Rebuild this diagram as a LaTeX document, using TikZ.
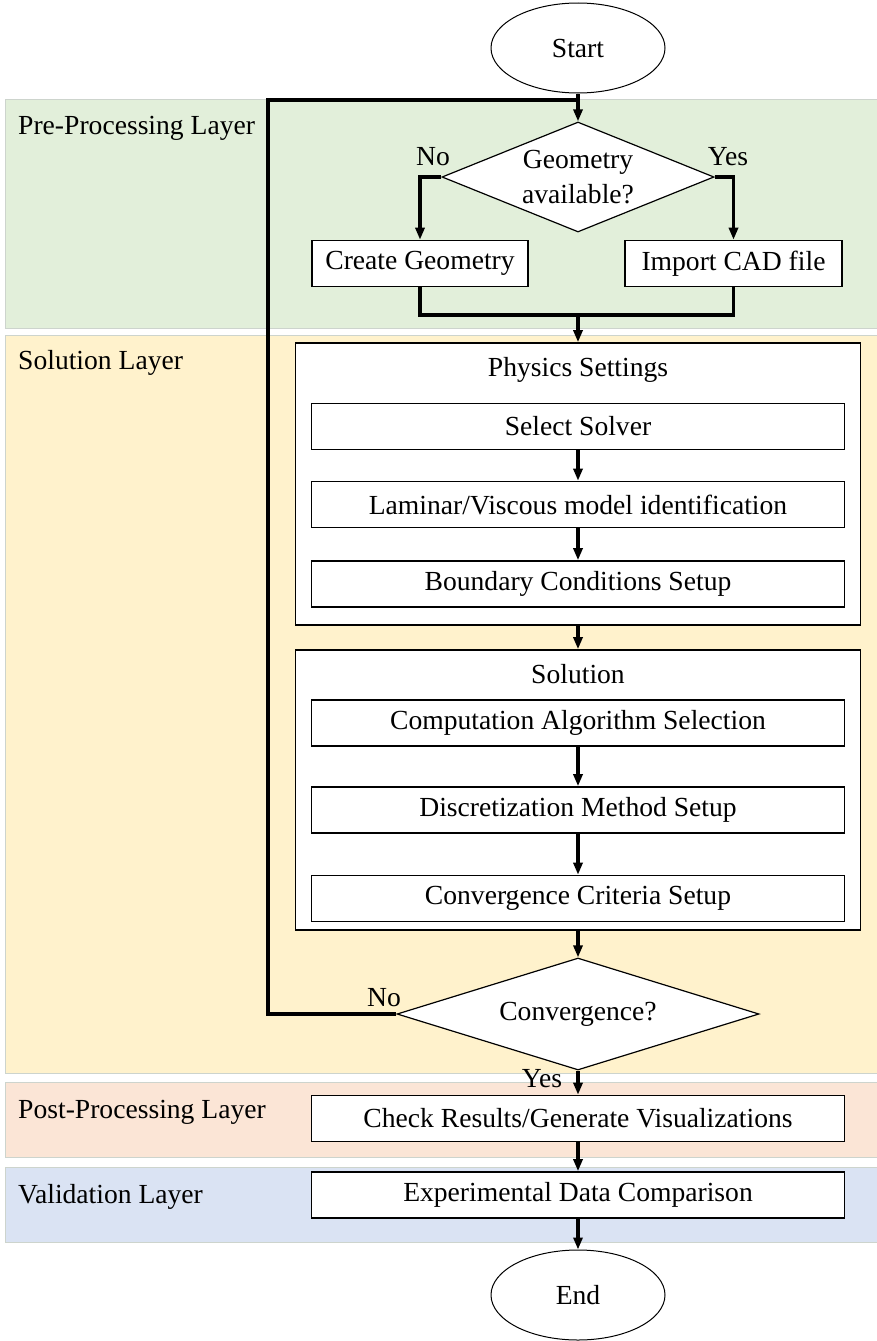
\documentclass[tikz,border=0pt]{standalone}
\usepackage{fontspec}
\setmainfont{Liberation Serif}
\usepackage{tikz}
\usetikzlibrary{arrows,arrows.meta,positioning,shapes.geometric}
\definecolor{preband}{RGB}{226,239,218}
\definecolor{solband}{RGB}{255,242,204}
\definecolor{postband}{RGB}{251,229,214}
\definecolor{valband}{RGB}{218,227,243}
\definecolor{bandline}{RGB}{205,212,205}
\tikzset{font=\fontsize{27.6}{35}\selectfont}
\tikzset{every node/.append style={transform shape=false}}
\tikzset{
  band/.style={draw=bandline, line width=1pt},
  layer/.style={anchor=base west, inner sep=0pt},
  term/.style={ellipse, draw, fill=white, line width=1pt, minimum width=174, minimum height=90, inner sep=0pt},
  decide/.style={diamond, draw, fill=white, line width=1.2pt, inner sep=0pt, align=center},
  procbox/.style={draw, fill=white, line width=1.6pt, minimum height=46, inner sep=0pt},
  groupbox/.style={draw, fill=white, line width=1.6pt, minimum width=565, inner sep=0pt},
  lbl/.style={inner sep=0pt},
  flow/.style={line width=3.2pt},
  arr/.style={flow, -{Triangle[length=12pt,width=9pt]}}
}

\begin{document}
\begin{tikzpicture}[x=1pt, y=-1pt]
\useasboundingbox (0,0) rectangle (877,1341);
% layers
\filldraw[band, fill=preband] (5,99) rectangle (880,328);
\filldraw[band, fill=solband] (5,335) rectangle (880,1073);
\filldraw[band, fill=postband] (5,1082) rectangle (880,1157);
\filldraw[band, fill=valband] (5,1167) rectangle (880,1242);
\node[layer] (prelayer) at (18,134) {Pre-Processing Layer};
\node[layer] (sollayer) at (18,369) {Solution Layer};
\node[layer] (postlayer) at (18,1118) {Post-Processing Layer};
\node[layer] (vallayer) at (18,1203) {Validation Layer};

\node[term] (start) at (578,48) {Start};
\node[decide, minimum width=272, minimum height=110, aspect=2.47] (geo) at (578,177) {Geometry\\available?};
\node[lbl] (geono) at (433,157) {No};
\node[lbl] (geoyes) at (728,157) {Yes};
\node[procbox, minimum width=216] (create) at (420,263.5) {Create Geometry};
\node[procbox, minimum width=217] (cad) at (733.5,263.5) {Import CAD file};
\coordinate (merge) at (578,315);
\coordinate (join) at (578,100);
\coordinate (loopc) at (268,100);

\node[groupbox, minimum height=282] (phys) at (578,484) {};
\node[below=15pt of phys.north, inner sep=0pt] (physt) {Physics Settings};
\node[procbox, minimum width=533] (solver) at (578,426.5) {Select Solver};
\node[procbox, minimum width=533] (visc) at (578,504.5) {Laminar/Viscous model identification};
\node[procbox, minimum width=533] (bc) at (578,584) {Boundary Conditions Setup};

\node[groupbox, minimum height=280] (sol) at (578,790) {};
\node[below=15pt of sol.north, inner sep=0pt] (solt) {Solution};
\node[procbox, minimum width=533] (algo) at (578,723) {Computation Algorithm Selection};
\node[procbox, minimum width=533] (disc) at (578,810) {Discretization Method Setup};
\node[procbox, minimum width=533] (crit) at (578,898.5) {Convergence Criteria Setup};

\node[decide, minimum width=362, minimum height=112, aspect=3.2] (conv) at (578,1014) {Convergence?};
\node[lbl] (convno) at (384,998) {No};
\node[lbl] (convyes) at (542,1079) {Yes};

\node[procbox, minimum width=533] (check) at (578,1118.5) {Check Results/Generate Visualizations};
\node[procbox, minimum width=533] (exp) at (578,1195) {Experimental Data Comparison};
\node[term] (end) at (578,1295) {End};

\draw[arr] (start) -- (geo);
\draw[arr] (geo.west) -| (create.north);
\draw[arr] (geo.east) -| (cad.north);
\draw[flow] (create.south) |- (merge) -| (cad.south);
\draw[arr] (merge) -- (phys.north);
\draw[arr] (solver) -- (visc);
\draw[arr] (visc) -- (bc);
\draw[arr] (phys.south) -- (sol.north);
\draw[arr] (algo) -- (disc);
\draw[arr] (disc) -- (crit);
\draw[arr] (sol.south) -- (conv.north);
\draw[flow] (conv.west) -| (loopc) -- (join);
\draw[arr] (conv.south) -- (check);
\draw[arr] (check) -- (exp);
\draw[arr] (exp) -- (end);
%\node[lbl] at (578,1330) {};
\end{tikzpicture}
\end{document}
